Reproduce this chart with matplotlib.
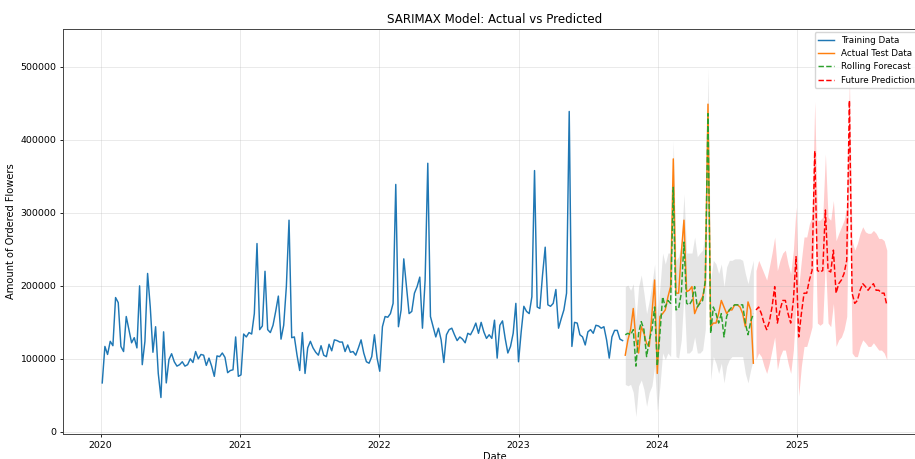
import numpy as np
import pandas as pd
import matplotlib
matplotlib.use("Agg")
import matplotlib.pyplot as plt

# weekly amounts
train_values = [
    67, 117, 106, 124, 118, 184, 177, 117, 110, 158, 140, 122, 129, 115, 200, 92, 124, 217,
    171, 109, 144, 80, 47, 137, 67, 99, 107, 96, 90, 92, 96, 90, 92, 100, 95, 110, 100, 106,
    105, 91, 101, 90, 76, 104, 103, 108, 102, 81, 84, 85, 130, 76, 78,
    134, 130, 136, 134, 162, 258, 140, 145, 220, 140, 136, 146, 165, 186, 127, 146, 199, 290,
    129, 130, 105, 84, 136, 80, 115, 124, 115, 109, 105, 118, 105, 103, 120, 111, 126, 125,
    123, 123, 110, 119, 109, 110, 105, 115,
    126, 108, 96, 94, 103, 133, 101, 83,
    144, 158, 157, 162, 176, 339, 144, 167, 237, 199, 162, 165, 190, 199, 212, 142, 208, 368,
    158, 144, 130, 142, 126, 95, 133, 140, 142, 133, 125, 130, 127, 122, 135, 133, 140, 149,
    135, 150, 137, 128, 133, 128, 153, 101, 146, 152, 128, 108, 117, 135, 176, 96,
    137, 172, 165, 162, 185, 358, 171, 169, 215, 253, 174, 172, 176, 195, 142, 155, 167, 190,
    439, 117, 150, 149, 133, 130, 119, 137, 140, 135, 146, 145, 142, 144, 126, 101, 130, 139,
    139, 127, 125,
]
test_values = [
    105, 126, 140, 169, 126, 108, 144, 135, 121, 117, 162, 208, 80, 158, 162, 167, 185, 199,
    374, 190, 190, 245, 290, 192, 194, 199, 162, 171, 178, 185, 203, 449, 144, 149, 149, 162,
    180, 171, 162, 167, 167, 174, 174, 171, 162, 144, 178, 167, 94,
]
rolling_values = [
    133, 135, 133, 140, 90, 135, 151, 140, 103, 126, 140, 171, 90, 135, 185, 171, 180, 176,
    335, 167, 169, 190, 260, 176, 174, 180, 199, 171, 176, 180, 208, 436, 135, 171, 162, 149,
    162, 130, 158, 167, 171, 174, 174, 174, 174, 149, 133, 151, 162,
]
rolling_upper = [
    199, 201, 194, 203, 153, 199, 215, 190, 162, 180, 203, 230, 158, 199, 245, 230, 245, 245,
    399, 235, 240, 258, 326, 245, 245, 245, 267, 240, 245, 249, 276, 499, 208, 235, 230, 217,
    230, 199, 226, 235, 235, 237, 237, 237, 235, 217, 203, 221, 235,
]
rolling_lower = [
    65, 63, 65, 54, 21, 63, 71, 58, 35, 54, 63, 90, 28, 63, 108, 99, 108, 103,
    262, 103, 101, 126, 190, 108, 108, 112, 130, 108, 108, 112, 140, 362, 71, 103, 94, 80,
    94, 67, 90, 99, 103, 103, 103, 103, 103, 80, 67, 85, 99,
]
future_values = [
    167, 171, 162, 149, 140, 151, 171, 199, 149, 167, 180, 180, 162, 149, 180, 240, 130, 162,
    190, 190, 208, 221, 385, 221, 219, 221, 304, 221, 219, 249, 190, 203, 208, 217, 235, 454,
    190, 176, 180, 194, 203, 199, 194, 199, 203, 194, 194, 190, 190, 174,
]
future_upper = [
    221, 235, 226, 217, 208, 226, 245, 267, 221, 235, 245, 249, 230, 217, 249, 308, 199, 235,
    267, 267, 285, 294, 453, 290, 290, 294, 381, 294, 290, 317, 262, 272, 281, 290, 308, 485,
    262, 249, 258, 272, 281, 274, 272, 272, 276, 272, 265, 265, 262, 249,
]
future_lower = [
    99, 108, 103, 90, 80, 94, 112, 130, 85, 103, 112, 112, 94, 80, 112, 176, 49, 90,
    117, 117, 130, 144, 308, 149, 146, 149, 235, 149, 144, 176, 117, 126, 130, 140, 158, 371,
    108, 103, 103, 117, 126, 122, 117, 117, 122, 117, 112, 112, 108, 99,
]

train_start = "2020-01-05"
test_start = "2023-10-08"
future_start = "2024-09-15"

train_dates = pd.date_range(train_start, periods=len(train_values), freq="7D")
test_dates = pd.date_range(test_start, periods=len(test_values), freq="7D")
future_dates = pd.date_range(future_start, periods=len(future_values), freq="7D")

k = 1000
train = np.array(train_values) * k
test = np.array(test_values) * k
rolling = np.array(rolling_values) * k
future = np.array(future_values) * k

fs = 7.1
lw = 1.05

fig = plt.figure(figsize=(9.15, 4.59), dpi=100)
ax = fig.add_axes([63 / 915, 25 / 459, 863 / 915, 405 / 459])

ax.plot(train_dates, train, color="tab:blue", lw=lw, label="Training Data")
ax.plot(test_dates, test, color="tab:orange", lw=lw, label="Actual Test Data")
ax.plot(test_dates, rolling, "--", color="tab:green", lw=lw, label="Rolling Forecast")
ax.fill_between(test_dates, np.array(rolling_lower) * k, np.array(rolling_upper) * k,
                color="gray", alpha=0.2, lw=0)
ax.plot(future_dates, future, "r--", lw=lw, label="Future Predictions")
ax.fill_between(future_dates, np.array(future_lower) * k, np.array(future_upper) * k,
                color="r", alpha=0.2, lw=0)

ax.set_ylim(-3000, 552000)
ax.set_title("SARIMAX Model: Actual vs Predicted", fontsize=8.6, pad=4)
ax.set_xlabel("Date", fontsize=fs, labelpad=2)
ax.set_ylabel("Amount of Ordered Flowers", fontsize=fs, labelpad=3)
ax.tick_params(labelsize=fs * 0.95, length=2.4, width=0.6, pad=2.4)
for s in ax.spines.values():
    s.set_linewidth(0.7)
    s.set_color("#444444")
ax.grid(True, alpha=0.3, lw=0.6)
ax.legend(loc="upper right", fontsize=6.3, borderaxespad=0.35, handlelength=1.8)

fig.savefig("out.png", dpi=100)
